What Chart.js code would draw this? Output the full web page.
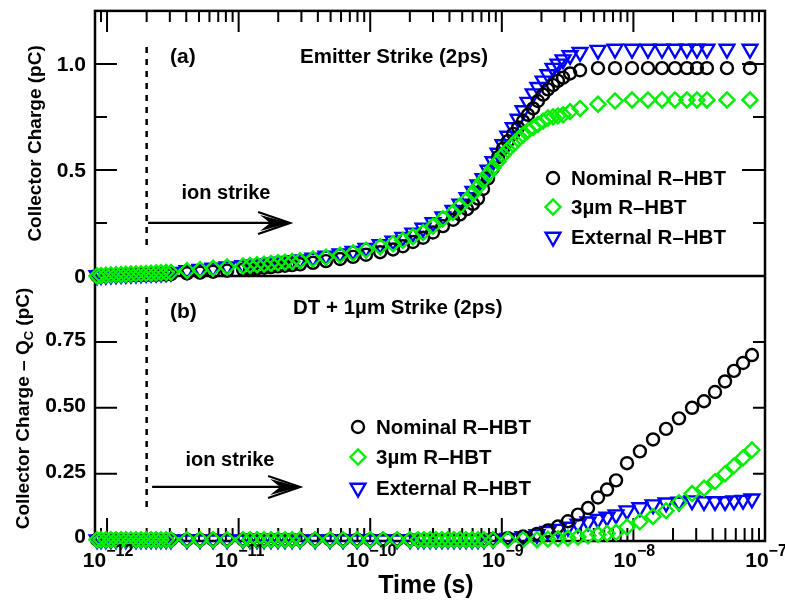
<!DOCTYPE html>
<html>
<head>
<meta charset="utf-8">
<script src="https://cdn.jsdelivr.net/npm/chart.js@4.4.0/dist/chart.umd.min.js"></script>
<style>
  html, body { margin: 0; padding: 0; background: #fff; }
  #wrap { width: 785px; height: 605px; }
</style>
</head>
<body>
<div id="wrap"><canvas id="chargeChart" width="785" height="605"></canvas></div>
<script>
// (a) Emitter strike: sample times (s) and collector charge (pC)
const timeA = [
  8.4e-13, 9.0e-13, 9.8e-13, 1.07e-12, 1.17e-12, 1.28e-12, 1.39e-12, 1.52e-12, 1.66e-12, 1.81e-12,
  1.98e-12, 2.16e-12, 2.36e-12, 2.57e-12, 2.81e-12, 3.06e-12,
  4.05e-12, 5.09e-12, 6.39e-12, 8.17e-12,
  1.08e-11, 1.22e-11, 1.38e-11, 1.56e-11, 1.76e-11, 1.99e-11, 2.25e-11, 2.55e-11,
  2.93e-11, 3.67e-11, 4.61e-11, 5.90e-11, 7.40e-11, 9.29e-11, 1.19e-10,
  1.49e-10, 1.77e-10, 2.11e-10, 2.52e-10, 3.00e-10, 3.57e-10, 4.26e-10, 4.81e-10, 5.44e-10, 6.04e-10,
  6.59e-10, 7.20e-10, 7.86e-10, 8.57e-10, 9.36e-10, 1.02e-9, 1.11e-9, 1.22e-9, 1.33e-9, 1.45e-9,
  1.58e-9, 1.73e-9, 1.88e-9, 2.06e-9, 2.24e-9, 2.45e-9, 2.67e-9, 2.92e-9, 3.30e-9, 3.93e-9,
  5.38e-9, 7.25e-9, 9.76e-9, 1.29e-8, 1.65e-8, 2.07e-8, 2.55e-8, 3.04e-8, 3.62e-8, 5.14e-8,
  7.69e-8
];
const nominalA = [
  0, 0, 0.001, 0.002, 0.002, 0.003, 0.003, 0.004, 0.004, 0.005, 0.005, 0.006, 0.006, 0.007, 0.007, 0.008,
  0.012, 0.016, 0.02, 0.025,
  0.03, 0.033, 0.036, 0.039, 0.042, 0.045, 0.048, 0.051,
  0.055, 0.062, 0.07, 0.08, 0.09, 0.10, 0.112,
  0.125, 0.14, 0.16, 0.18, 0.205, 0.235, 0.265, 0.29, 0.315, 0.34,
  0.365, 0.41, 0.46, 0.51, 0.56, 0.60, 0.635, 0.67, 0.70, 0.73,
  0.76, 0.79, 0.825, 0.855, 0.88, 0.90, 0.92, 0.935, 0.955, 0.97,
  0.98, 0.98, 0.98, 0.98, 0.98, 0.98, 0.98, 0.98, 0.98, 0.98,
  0.98
];
const threeUmA = [
  0, 0.002, 0.004, 0.005, 0.006, 0.007, 0.008, 0.009, 0.01, 0.011, 0.012, 0.013, 0.014, 0.015, 0.016, 0.017,
  0.025, 0.03, 0.036, 0.042,
  0.047, 0.05, 0.053, 0.056, 0.059, 0.062, 0.065, 0.068,
  0.072, 0.08, 0.088, 0.098, 0.108, 0.122, 0.138,
  0.152, 0.168, 0.185, 0.205, 0.235, 0.27, 0.30, 0.33, 0.36, 0.39,
  0.42, 0.45, 0.48, 0.51, 0.54, 0.57, 0.595, 0.62, 0.645, 0.665,
  0.685, 0.70, 0.715, 0.73, 0.745, 0.75, 0.755, 0.76, 0.775, 0.79,
  0.81, 0.825, 0.83, 0.83, 0.83, 0.83, 0.83, 0.83, 0.83, 0.83,
  0.83
];
const externalA = [
  0.002, 0.003, 0.004, 0.005, 0.006, 0.007, 0.008, 0.009, 0.01, 0.011, 0.012, 0.013, 0.014, 0.015, 0.016, 0.018,
  0.026, 0.032, 0.038, 0.044,
  0.05, 0.053, 0.056, 0.059, 0.062, 0.066, 0.07, 0.073,
  0.077, 0.085, 0.094, 0.105, 0.117, 0.131, 0.148,
  0.165, 0.183, 0.203, 0.226, 0.252, 0.28, 0.31, 0.34, 0.37, 0.40,
  0.43, 0.46, 0.50, 0.54, 0.58, 0.62, 0.66, 0.70, 0.74, 0.78,
  0.82, 0.86, 0.89, 0.92, 0.95, 0.98, 1.0, 1.02, 1.04, 1.055,
  1.065, 1.07, 1.07, 1.07, 1.07, 1.07, 1.07, 1.07, 1.07, 1.07,
  1.07
];

// (b) DT + 1um strike: sample times (s) and collector charge - Qc (pC)
const timeB = [
  8.4e-13, 9.0e-13, 9.8e-13, 1.07e-12, 1.17e-12, 1.28e-12, 1.39e-12, 1.52e-12, 1.66e-12, 1.81e-12,
  1.98e-12, 2.16e-12, 2.36e-12, 2.57e-12, 2.81e-12, 3.06e-12,
  4.05e-12, 5.09e-12, 6.39e-12, 8.17e-12,
  1.08e-11, 1.22e-11, 1.38e-11, 1.56e-11, 1.76e-11, 1.99e-11, 2.25e-11, 2.55e-11,
  2.93e-11, 3.81e-11, 4.95e-11, 6.21e-11, 7.94e-11, 9.97e-11, 1.25e-10, 1.60e-10, 2.01e-10,
  2.31e-10, 2.56e-10, 2.85e-10, 3.16e-10, 3.51e-10, 3.90e-10, 4.33e-10, 4.81e-10, 5.35e-10, 5.94e-10,
  6.59e-10, 7.32e-10,
  8.57e-10, 1.11e-9, 1.45e-9, 1.85e-9, 2.24e-9, 2.67e-9, 3.18e-9, 3.79e-9, 4.52e-9, 5.38e-9,
  6.30e-9, 7.38e-9, 8.94e-9, 1.12e-8, 1.41e-8, 1.77e-8, 2.22e-8, 2.79e-8, 3.44e-8, 4.17e-8,
  4.97e-8, 5.81e-8, 6.81e-8, 7.96e-8
];
const nominalB = [
  0, 0, 0, 0, 0, 0, 0, 0, 0, 0, 0, 0, 0, 0, 0, 0,
  0, 0, 0, 0,
  0, 0, 0, 0, 0, 0, 0, 0,
  0, 0, 0, 0, 0, 0, 0, 0, 0,
  0, 0, 0, 0, 0, 0, 0, 0, 0, 0,
  0, 0,
  0.003, 0.006, 0.012, 0.022, 0.035, 0.05, 0.07, 0.095, 0.12, 0.16,
  0.19, 0.225, 0.29, 0.335, 0.38, 0.42, 0.46, 0.50, 0.525, 0.56,
  0.60, 0.64, 0.67, 0.70
];
const threeUmB = [
  0, 0, 0, 0, 0, 0, 0, 0, 0, 0, 0, 0, 0, 0, 0, 0,
  0, 0, 0, 0,
  0, 0, 0, 0, 0, 0, 0, 0,
  0, 0, 0, 0, 0, 0, 0, 0, 0,
  0, 0, 0, 0, 0, 0, 0, 0, 0, 0,
  0, 0,
  0, 0, 0, 0, 0.002, 0.004, 0.006, 0.01, 0.015, 0.02,
  0.024, 0.028, 0.048, 0.068, 0.088, 0.11, 0.14, 0.175, 0.195, 0.22,
  0.25, 0.28, 0.31, 0.34
];
const externalB = [
  0, 0, 0, 0, 0, 0, 0, 0, 0, 0, 0, 0, 0, 0, 0, 0,
  0, 0, 0, 0,
  0, 0, 0, 0, 0, 0, 0, 0,
  0, 0, 0, 0, 0, 0, 0, 0, 0,
  0, 0, 0, 0, 0, 0, 0, 0, 0, 0,
  0, 0,
  0.002, 0.006, 0.012, 0.02, 0.032, 0.04, 0.048, 0.06, 0.068, 0.078,
  0.086, 0.095, 0.11, 0.122, 0.133, 0.14, 0.143, 0.148, 0.145, 0.145,
  0.145, 0.148, 0.15, 0.155
];

// axes and labels
const X_MIN = 8.1e-13, X_MAX = 1e-7;
const xTickExps = [-12, -11, -10, -9, -8, -7];
const yATicks = [0, 0.5, 1.0];
const yALabels = ['0', '0.5', '1.0'];
const yAMinor = [0.25, 0.75];
const yBTicks = [0, 0.25, 0.5, 0.75];
const yBLabels = ['0', '0.25', '0.50', '0.75'];
const seriesNames = ['Nominal R\u2013HBT', '3\u00b5m R\u2013HBT', 'External R\u2013HBT'];
const ionStrikeTime = 2e-12;

const FONT = '"Liberation Sans", Arial, Helvetica, sans-serif';
const BLACK = '#000000', GREEN = '#00ee00', BLUE = '#0000ff';
const markers = [
  { style: 'circle', radius: 6, rotation: 0, color: BLACK },
  { style: 'rectRot', radius: 7.5, rotation: 0, color: GREEN },
  { style: 'triangle', radius: 8.5, rotation: 180, color: BLUE }
];

function series(times, values, axis, m, order) {
  return {
    data: times.map((t, i) => ({ x: t, y: values[i] })),
    yAxisID: axis,
    order: order,
    clip: false,
    pointStyle: m.style,
    pointRadius: m.radius,
    pointHoverRadius: m.radius,
    pointRotation: m.rotation,
    pointBorderWidth: 2.4,
    pointBorderColor: m.color,
    pointBackgroundColor: 'rgba(0,0,0,0)',
    showLine: false
  };
}

function drawLegend(ctx, x, ys) {
  ctx.font = 'bold 20.5px ' + FONT;
  ctx.textAlign = 'left';
  ctx.textBaseline = 'middle';
  markers.forEach((m, i) => {
    ctx.strokeStyle = m.color;
    ctx.fillStyle = 'rgba(0,0,0,0)';
    ctx.lineWidth = 2.4;
    Chart.helpers.drawPoint(ctx, { pointStyle: m.style, radius: m.radius, rotation: m.rotation, borderWidth: 2.4 }, x, ys[i]);
    ctx.fillStyle = BLACK;
    ctx.fillText(seriesNames[i], x + 18, ys[i] + 1);
  });
}

function drawArrow(ctx, x0, x1, y) {
  ctx.beginPath();
  ctx.moveTo(x0, y); ctx.lineTo(x1, y);
  ctx.moveTo(x1 - 32, y - 11); ctx.lineTo(x1, y); ctx.lineTo(x1 - 32, y + 11);
  ctx.stroke();
  ctx.beginPath();
  ctx.moveTo(x1, y); ctx.lineTo(x1 - 30, y - 8); ctx.lineTo(x1 - 20, y); ctx.lineTo(x1 - 30, y + 8);
  ctx.closePath();
  ctx.fill();
}

const panelDecor = {
  id: 'panelDecor',
  beforeDatasetsDraw(chart) {
    const { ctx, chartArea: a, scales } = chart;
    const x = scales.x, yA = scales.yA, yB = scales.yB;
    const mid = yA.bottom;
    ctx.save();
    ctx.strokeStyle = BLACK;
    ctx.fillStyle = BLACK;
    ctx.lineWidth = 2.5;
    ctx.strokeRect(a.left, a.top, a.right - a.left, a.bottom - a.top);
    ctx.beginPath(); ctx.moveTo(a.left, mid); ctx.lineTo(a.right, mid); ctx.stroke();

    // log ticks on top and bottom borders, pointing in
    ctx.lineWidth = 2;
    ctx.beginPath();
    for (let e = xTickExps[0] - 1; e <= xTickExps[xTickExps.length - 1]; e++) {
      for (let m = 1; m <= 9; m++) {
        const v = m * Math.pow(10, e);
        if (v < X_MIN || v > X_MAX) continue;
        const px = x.getPixelForValue(v);
        const len = m === 1 ? 21 : 11;
        ctx.moveTo(px, a.top); ctx.lineTo(px, a.top + len);
        ctx.moveTo(px, a.bottom); ctx.lineTo(px, a.bottom - len - 2);
      }
    }
    // y ticks
    yATicks.forEach(v => {
      if (v === 0) return;
      const py = yA.getPixelForValue(v);
      ctx.moveTo(a.left, py); ctx.lineTo(a.left + 22, py);
      ctx.moveTo(a.right, py); ctx.lineTo(a.right - 23, py);
    });
    yAMinor.forEach(v => {
      const py = yA.getPixelForValue(v);
      ctx.moveTo(a.left, py); ctx.lineTo(a.left + 12, py);
      ctx.moveTo(a.right, py); ctx.lineTo(a.right - 12, py);
    });
    yBTicks.forEach(v => {
      if (v === 0) return;
      const py = yB.getPixelForValue(v);
      ctx.moveTo(a.left, py); ctx.lineTo(a.left + 22, py);
      ctx.moveTo(a.right, py); ctx.lineTo(a.right - 12, py);
    });
    ctx.stroke();

    // ion strike markers
    const sx = x.getPixelForValue(ionStrikeTime);
    ctx.setLineDash([6, 6]);
    ctx.lineWidth = 2.5;
    ctx.beginPath();
    ctx.moveTo(sx, yA.getPixelForValue(1.08)); ctx.lineTo(sx, yA.getPixelForValue(0.13));
    ctx.moveTo(sx, yB.getPixelForValue(0.92)); ctx.lineTo(sx, yB.getPixelForValue(0.11));
    ctx.stroke();
    ctx.setLineDash([]);
    ctx.lineWidth = 2.2;
    drawArrow(ctx, x.getPixelForValue(2.05e-12), x.getPixelForValue(2.46e-11), yA.getPixelForValue(0.25));
    drawArrow(ctx, x.getPixelForValue(2.2e-12), x.getPixelForValue(2.93e-11), yB.getPixelForValue(0.2));
    ctx.restore();
  },
  afterDraw(chart) {
    const { ctx, chartArea: a, scales } = chart;
    const x = scales.x, yA = scales.yA, yB = scales.yB;
    ctx.save();
    ctx.fillStyle = BLACK;

    // y tick labels
    ctx.font = 'bold 21px ' + FONT;
    ctx.textAlign = 'right';
    ctx.textBaseline = 'middle';
    yATicks.forEach((v, i) => ctx.fillText(yALabels[i], a.left - 9, yA.getPixelForValue(v) + 1));
    yBTicks.forEach((v, i) => ctx.fillText(yBLabels[i], a.left - 9, yB.getPixelForValue(v) - 2));

    // x tick labels 10^n
    xTickExps.forEach(e => {
      const px = x.getPixelForValue(Math.pow(10, e));
      const base = '10', sup = '\u2212' + Math.abs(e);
      ctx.font = 'bold 21px ' + FONT;
      const wb = ctx.measureText(base).width;
      ctx.font = 'bold 16px ' + FONT;
      const ws = ctx.measureText(sup).width;
      const left = px - (wb + ws) / 2 + 1;
      ctx.textAlign = 'left';
      ctx.font = 'bold 21px ' + FONT;
      ctx.fillText(base, left, 561);
      ctx.font = 'bold 16px ' + FONT;
      ctx.fillText(sup, left + wb, 552);
    });

    // axis titles
    ctx.font = 'bold 25px ' + FONT;
    ctx.textAlign = 'center';
    ctx.fillText('Time (s)', (a.left + a.right) / 2 - 4, 586);

    ctx.font = 'bold 19px ' + FONT;
    ctx.save();
    ctx.translate(36, (yA.top + yA.bottom) / 2);
    ctx.rotate(-Math.PI / 2);
    ctx.fillText('Collector Charge (pC)', 0, 0);
    ctx.restore();

    ctx.save();
    ctx.translate(24, (yB.top + yB.bottom) / 2);
    ctx.rotate(-Math.PI / 2);
    const p1 = 'Collector Charge \u2013 Q', p2 = 'C', p3 = ' (pC)';
    ctx.font = 'bold 19px ' + FONT;
    const w1 = ctx.measureText(p1).width, w3 = ctx.measureText(p3).width;
    ctx.font = 'bold 13px ' + FONT;
    const w2 = ctx.measureText(p2).width;
    let cx = -(w1 + w2 + w3) / 2;
    ctx.textAlign = 'left';
    ctx.font = 'bold 19px ' + FONT;
    ctx.fillText(p1, cx, 0); cx += w1;
    ctx.font = 'bold 13px ' + FONT;
    ctx.fillText(p2, cx, 5); cx += w2;
    ctx.font = 'bold 19px ' + FONT;
    ctx.fillText(p3, cx, 0);
    ctx.restore();

    // panel annotations
    ctx.textAlign = 'left';
    ctx.font = 'bold 21px ' + FONT;
    ctx.fillText('(a)', 170, 57);
    ctx.fillText('(b)', 170, 312);
    ctx.font = 'bold 20.5px ' + FONT;
    ctx.fillText('Emitter Strike (2ps)', 300, 57);
    ctx.fillText('DT + 1\u00b5m Strike (2ps)', 293, 308);
    ctx.font = 'bold 20px ' + FONT;
    ctx.textAlign = 'center';
    ctx.fillText('ion strike', 226, 193);
    ctx.fillText('ion strike', 230, 460);

    drawLegend(ctx, 553, [178, 207, 237]);
    drawLegend(ctx, 358, [427, 457, 488]);
    ctx.restore();
  }
};

new Chart(document.getElementById('chargeChart'), {
  type: 'scatter',
  data: {
    datasets: [
      series(timeA, externalA, 'yA', markers[2], 2),
      series(timeA, nominalA, 'yA', markers[0], 1),
      series(timeA, threeUmA, 'yA', markers[1], 0),
      series(timeB, externalB, 'yB', markers[2], 2),
      series(timeB, nominalB, 'yB', markers[0], 1),
      series(timeB, threeUmB, 'yB', markers[1], 0)
    ]
  },
  options: {
    responsive: false,
    animation: false,
    layout: { padding: { left: 95, right: 20, top: 5, bottom: 64 } },
    plugins: { legend: { display: false }, tooltip: { enabled: false } },
    scales: {
      x: { type: 'logarithmic', min: X_MIN, max: X_MAX, display: false },
      // stacked panels: the later scale in this list ends up on top
      yB: { type: 'linear', position: 'left', stack: 'panels', stackWeight: 1, min: -0.005, max: 1.0, display: false },
      yA: { type: 'linear', position: 'left', stack: 'panels', stackWeight: 1, min: 0, max: 1.25, display: false }
    }
  },
  plugins: [panelDecor]
});
</script>
</body>
</html>
